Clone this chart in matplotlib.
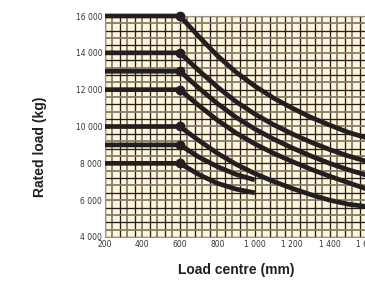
import matplotlib
matplotlib.use("Agg")
import matplotlib.pyplot as plt
import numpy as np

# Load centre positions (mm)
x_long = [200, 600, 700, 800, 900, 1000, 1100, 1200, 1300, 1400, 1500, 1600]
x_short = [200, 600, 700, 800, 900, 1000]

# Rated load curves (kg)
c16000 = [16000, 16000, 14900, 13850, 12950, 12200, 11550, 11000, 10500, 10080, 9680, 9380]
c14000 = [14000, 14000, 13050, 12150, 11350, 10680, 10100, 9600, 9150, 8750, 8400, 8100]
c13000 = [13000, 13000, 12100, 11250, 10500, 9870, 9320, 8840, 8400, 8000, 7650, 7350]
c12000 = [12000, 12000, 11150, 10350, 9650, 9060, 8550, 8100, 7680, 7300, 6950, 6600]
c10000 = [10000, 10000, 9250, 8550, 7950, 7450, 7020, 6640, 6300, 6000, 5780, 5650]
c9000 = [9000, 9000, 8350, 7820, 7400, 7100]
c8000 = [8000, 8000, 7400, 6920, 6600, 6400]

long_curves = [c16000, c14000, c13000, c12000, c10000]
short_curves = [c9000, c8000]

x_ticks = [200, 400, 600, 800, 1000, 1200, 1400, 1600]
x_ticklabels = ["200", "400", "600", "800", "1 000", "1 200", "1 400", "1 600"]
y_ticks = [4000, 6000, 8000, 10000, 12000, 14000, 16000]
y_ticklabels = ["4 000", "6 000", "8 000", "10 000", "12 000", "14 000", "16 000"]

fig = plt.figure(figsize=(3.65, 2.91), dpi=100)
ax = fig.add_axes([105/365, 1-237/291, 262/365, 221/291])
ax.set_facecolor("#FFF6DA")
ax.set_xlim(200, 1600)
ax.set_ylim(4000, 16000)

# grid
for i, gx in enumerate(np.arange(200, 1601, 40)):
    if i % 2 == 0:
        ax.axvline(gx, color="#231e1a", lw=0.95, zorder=1)
    else:
        ax.axvline(gx, color="#857d6c", lw=1.3, zorder=1)
for i, gy in enumerate(np.arange(4000, 16001, 400)):
    if i % 2 == 0:
        ax.axhline(gy, color="#231e1a", lw=0.95, zorder=1)
    else:
        ax.axhline(gy, color="#857d6c", lw=1.3, zorder=1)

for xs, curves in ((x_long, long_curves), (x_short, short_curves)):
    for c in curves:
        ax.plot(xs, c, color="#231f20", lw=3.4, solid_capstyle="butt",
                solid_joinstyle="round", zorder=3, clip_on=False)
        ax.plot([xs[1]], [c[1]], "o", color="#231f20", ms=6, zorder=4, clip_on=False)

ax.set_xticks(x_ticks)
ax.set_xticklabels(x_ticklabels)
ax.set_yticks(y_ticks)
ax.set_yticklabels(y_ticklabels)
ax.tick_params(length=0, labelsize=5.5, labelcolor="#333333", pad=2)
for s in ax.spines.values():
    s.set_color("#9a9488")
    s.set_linewidth(0.8)

fig.text(40/365, 1-147/291, "Rated load (kg)", rotation=90, ha="center", va="center",
         fontsize=10, fontweight="bold", color="#231f20", family="Liberation Sans")
fig.text(236/365, 1-270/291, "Load centre (mm)", ha="center", va="center",
         fontsize=10, fontweight="bold", color="#231f20", family="Liberation Sans")

fig.savefig("out.png", dpi=100)
